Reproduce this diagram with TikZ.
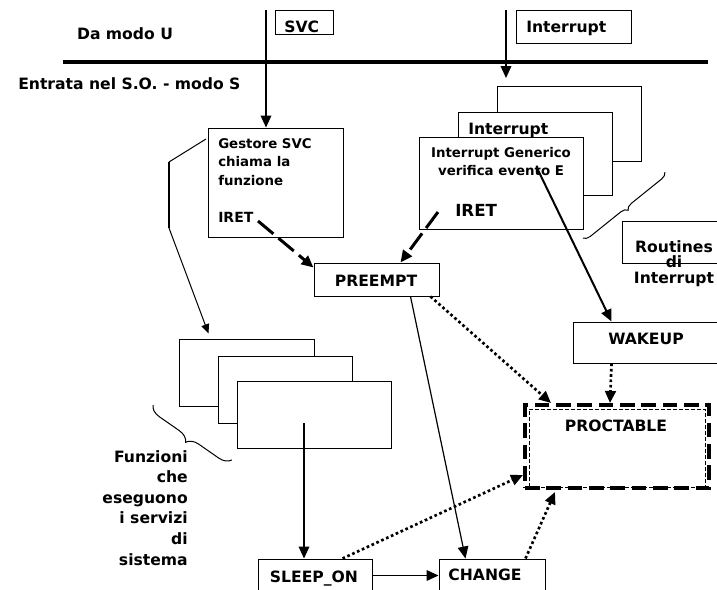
\documentclass[tikz,border=0pt]{standalone}
\usepackage{fontspec}
\setmainfont{DejaVu Sans}
\usetikzlibrary{arrows.meta,calc,fit,decorations.pathreplacing}
\newcommand\txtsz[1]{\fontsize{#1}{#1}\selectfont\bfseries}
\begin{document}
\begin{tikzpicture}[x=0.75pt,y=-0.75pt,
  box/.style={draw=black, line width=0.75pt, fill=white, inner sep=0pt, rectangle},
  lbl/.style={inner sep=0pt, font=\txtsz{11.7}},
  lblsmall/.style={inner sep=0pt, font=\txtsz{10}},
  arrowtip/.style={-{Triangle[length=9pt,width=8pt]}},
  solidarr/.style={arrowtip, line width=1.1pt},
  dasharr/.style={arrowtip, line width=2.25pt, dash pattern=on 15pt off 5pt},
  dotarr/.style={arrowtip, line width=2pt, dash pattern=on 2pt off 2pt},
  bracecurve/.style={line width=0.75pt, decorate, decoration={brace, mirror, amplitude=#1}},
]
\useasboundingbox (0,0) rectangle (717,589);
\clip (0,0) rectangle (717,589);

% user / supervisor boundary
\coordinate (sepL) at (63,62);
\coordinate (sepR) at (708,62);
\draw[line width=3pt] (sepL) -- (sepR);
\node[lbl, anchor=base] (damodo) at (125,39) {Da modo U};
\node[lbl, anchor=base west] (entrata) at (18,89) {Entrata nel S.O. - modo S};

% entry events
\node[box, fit={(275,10) (333,34)}] (svc) {};
\node[lbl, anchor=base west] (svct) at (284,32) {SVC};
\node[box, fit={(516,10) (631,43)}] (intr) {};
\node[lbl, anchor=base west] (intrt) at (526,32) {Interrupt};

% SVC handler
\node[box, fit={(208,128) (343,237)}] (gestore) {};
\node[lblsmall, anchor=base west] (g1) at (218,148) {Gestore SVC};
\node[lblsmall, anchor=base west] (g2) at (218,166.5) {chiama la};
\node[lblsmall, anchor=base west] (g3) at (218,185) {funzione};
\node[lbl, font=\txtsz{10.5}, anchor=base west] (giret) at (218,222) {IRET};

% interrupt routines stack
\node[box, fit={(497,86) (641,161)}] (ir3) {};
\node[box, fit={(458,112) (612,195)}] (ir2) {};
\node[lbl, anchor=base west] (ir2t) at (468,134) {Interrupt};
\node[box, fit={(419,137) (583,229)}] (ir1) {};
\node[lblsmall, anchor=base] (ir1a) at (501,157) {Interrupt Generico};
\node[lblsmall, anchor=base] (ir1b) at (501,175) {verifica evento E};
\node[lbl, font=\txtsz{12.5}, anchor=base west] (iiret) at (455,216) {IRET};

\node[box, fit={(622,221) (722,263)}] (routines) {};
\node[lbl, anchor=base] (rt1) at (674,252) {Routines};
\node[lbl, anchor=base] (rt2) at (674,267) {di};
\node[lbl, anchor=base] (rt3) at (674,283) {Interrupt};

% kernel primitives
\node[box, fit={(314,263) (439,296)}] (preempt) {};
\node[lbl, anchor=base] (preemptt) at (376,286) {PREEMPT};
\node[box, fit={(573,322) (722,363)}] (wakeup) {};
\node[lbl, anchor=base] (wakeupt) at (646,344) {WAKEUP};
\node[box, fit={(258,559) (372,592)}] (sleep) {};
\node[lbl, anchor=base] (sleept) at (314,582) {SLEEP\_ON};
\node[box, fit={(439,559) (545,592)}] (change) {};
\node[lbl, anchor=base] (changet) at (485,580) {CHANGE};

% process table
\node[rectangle, inner sep=0pt, draw=black, line width=3pt, dash pattern=on 11pt off 5pt, fit={(525,405) (709,488)}] (proc) {};
\node[rectangle, inner sep=0pt, draw=black, line width=0.75pt, dash pattern=on 3pt off 1.5pt, fit={(529,409) (705,487)}] (procin) {};
\node[lbl, anchor=base] (proct) at (616,431) {PROCTABLE};

% system service functions stack
\node[box, fit={(179,339) (314,406)}] (fn3) {};
\node[box, fit={(218,356) (352,423)}] (fn2) {};
\node[box, fit={(237,381) (391,448)}] (fn1) {};
\node[lbl, anchor=base east] (fz1) at (188,462) {Funzioni};
\node[lbl, anchor=base east] (fz2) at (188,482.6) {che};
\node[lbl, anchor=base east] (fz3) at (188,503.2) {eseguono};
\node[lbl, anchor=base east] (fz4) at (188,523.8) {i servizi};
\node[lbl, anchor=base east] (fz5) at (188,544.4) {di};
\node[lbl, anchor=base east] (fz6) at (188,565) {sistema};

% braces
\draw[bracecurve=9pt] (153,405) -- (232,460);
\draw[bracecurve=5pt] (583,238) -- (665,172);

% bracket from the SVC handler to the functions
\coordinate (bk1) at (206,139);
\coordinate (bk2) at (169,162);
\coordinate (bk3) at (169,228);
\draw[line width=0.75pt] (bk1) -- (bk2);
\draw[line width=1.6pt] (bk2) -- (bk3);
\draw[line width=0.75pt, -{Triangle[length=7pt,width=6pt]}] (bk3) -- ($(fn3.north west)+(30,-5)$);

% entry arrows
\coordinate (svctop) at (266,10);
\draw[solidarr] (svctop) -- (gestore.north -| svctop);
\coordinate (inttop) at (506,10);
\coordinate (intend) at (506,78);
\draw[solidarr] (inttop) -- (intend);

% returns to PREEMPT
\coordinate (gdash) at (258,221);
\draw[dasharr] (gdash) -- ($(preempt.north west)+(0,5)$);
\coordinate (idash) at (438,212);
\draw[dasharr] (idash) -- ($(preempt.north east)+(-39,0)$);

% control flow
\draw[solidarr, line width=0.9pt] ($(preempt.south east)+(-29,0)$) -- ($(change.north west)+(27,0)$);
\coordinate (evE) at (537,168);
\draw[solidarr, line width=1.5pt] (evE) -- ($(wakeup.north west)+(39,0)$);
\coordinate (fstart) at (304,423);
\draw[solidarr] (fstart) -- (sleep.north -| fstart);
\draw[solidarr] (sleep.east) -- (change.west);

% accesses to the process table
\draw[dotarr] ($(preempt.south east)+(-9,0)$) -- ($(proc.north west)+(28,0)$);
\draw[dotarr] ($(wakeup.south west)+(39,0)$) -- ($(proc.north west)+(87,0)$);
\draw[dotarr] ($(sleep.north west)+(85,0)$) -- ($(proc.south west)+(0,-15)$);
\draw[dotarr] ($(change.north east)+(-20,0)$) -- ($(proc.south west)+(32,2)$);
\end{tikzpicture}
\end{document}
